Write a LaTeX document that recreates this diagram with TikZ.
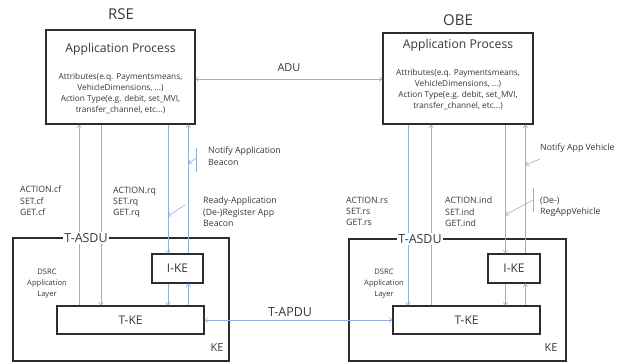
\documentclass[tikz,border=0pt]{standalone}
\usepackage{fontspec}
\setmainfont{Open Sans}
\usetikzlibrary{arrows.meta,calc}
\definecolor{flowblue}{RGB}{145,176,220}
\definecolor{ink}{RGB}{55,55,55}
\definecolor{frame}{RGB}{45,45,45}
\tikzset{
  box/.style={draw=frame,line width=1.2pt,fill=white,inner sep=0pt,text=ink},
  flow/.style={draw=flowblue,line width=0.6pt,-{To[length=3.5pt,width=5pt]}},
  flowline/.style={draw=flowblue,line width=0.6pt},
  bothflow/.style={draw=flowblue,line width=0.6pt,{To[length=3.5pt,width=5pt]}-{To[length=3.5pt,width=5pt]}},
  small/.style={text=ink,font=\fontsize{8.3}{11}\selectfont,inner sep=0pt},
  lbl/.style={text=ink,font=\fontsize{8.8}{11.2}\selectfont,inner sep=0pt,anchor=north west,align=left},
  heading/.style={text=ink,font=\fontsize{15}{18}\selectfont,inner sep=0pt},
  title/.style={text=ink,font=\fontsize{12.2}{14}\selectfont,inner sep=0pt},
  mid/.style={text=ink,font=\fontsize{12.5}{14}\selectfont,inner sep=1.5pt},
  kebox/.style={box,font=\fontsize{12}{14}\selectfont},
}
\begin{document}
\begin{tikzpicture}[x=1bp,y=-1bp]
\useasboundingbox (0,0) rectangle (625,363);

% ---------- RSE side ----------
\node[heading] (rsename) at (121,14) {RSE};
\node[box,minimum width=149bp,minimum height=94bp] (rseapp) at (120.5,77) {};
\node[title] (rsetitle) at (120.5,49) {Application Process};
\node[small,align=center] (rseattr) at (120.5,93.5)
  {Attributes(e.q. Paymentsmeans,\\VehicleDimensions, ...)\\Action Type(e.g. debit, set\_MVI,\\transfer\_channel, etc...)};

\node[box,minimum width=216bp,minimum height=123bp] (rseke) at (121,299.5) {};
\node[text=ink,font=\fontsize{11}{13}\selectfont,inner sep=0pt] (rsekelbl) at (217,348) {KE};
\node[small,align=center,font=\fontsize{7.6}{11}\selectfont] (rsedsrc) at (47,284) {DSRC\\Application\\Layer};
\node[kebox,minimum width=147bp,minimum height=28bp] (rsetke) at (130.5,320) {T-KE};
\node[kebox,minimum width=51bp,minimum height=29bp] (rseike) at (177.5,268.5) {I-KE};

% vertical service primitives
\coordinate (ra) at (79,0);
\coordinate (rb) at (101,0);
\coordinate (rc) at (168,0);
\coordinate (rd) at (188.5,0);
\draw[flow] (rsetke.north -| ra) -- (rseapp.south -| ra);
\draw[flow] (rseapp.south -| rb) -- (rsetke.north -| rb);
\draw[flow] (rseapp.south -| rc) -- (rseike.north -| rc);
\draw[flow] (rseike.south -| rc) -- (rsetke.north -| rc);
\draw[flow] (rsetke.north -| rd) -- (rseike.south -| rd);
\draw[flow] (rseike.north -| rd) -- (rseapp.south -| rd);
\node[mid,fill=white] (rseasdu) at (86,238) {T-ASDU};

\node[lbl] (rsecf) at (20,186) {ACTION.cf\\SET.cf\\GET.cf};
\node[lbl] (rserq) at (113,187) {ACTION.rq\\SET.rq\\GET.rq};
\node[lbl] (rsenotify) at (208,147) {Notify Application\\Beacon};
\node[lbl] (rseready) at (203,197) {Ready-Application\\(De-)Register App\\Beacon};

% pointers from the notification labels
\coordinate (rbarT) at (196,148);
\coordinate (rbarB) at (196,172);
\draw[flowline] (rbarT) -- (rbarB);
\draw[flow] ($(rbarT)!0.42!(rbarB)$) -- (rd |- 0,163.5);
\coordinate (rreadyfrom) at (185,205);
\draw[flow] (rreadyfrom) -- (rc |- 0,216);

% ---------- OBE side ----------
\node[heading] (obename) at (458,20) {OBE};
\node[box,minimum width=150bp,minimum height=91bp] (obeapp) at (458,78.5) {};
\node[title] (obetitle) at (458,45) {Application Process};
\node[small,align=center] (obeattr) at (458,89.5)
  {Attributes(e.q. Paymentsmeans,\\VehicleDimensions, ...)\\Action Type(e.g. debit, set\_MVI,\\transfer\_channel, etc...)};

\node[box,minimum width=217bp,minimum height=122bp] (obeke) at (457.5,300) {};
\node[text=ink,font=\fontsize{11}{13}\selectfont,inner sep=0pt] (obekelbl) at (551,348) {KE};
\node[small,align=center,font=\fontsize{7.6}{11}\selectfont] (obedsrc) at (384,284) {DSRC\\Application\\Layer};
\node[kebox,minimum width=147bp,minimum height=28bp] (obetke) at (466.5,320) {T-KE};
\node[kebox,minimum width=52bp,minimum height=29bp] (obeike) at (514,268.5) {I-KE};

\coordinate (oa) at (408,0);
\coordinate (ob) at (431,0);
\coordinate (oc) at (505.5,0);
\coordinate (od) at (525.5,0);
\draw[flow] (obeapp.south -| oa) -- (obetke.north -| oa);
\draw[flow] (obetke.north -| ob) -- (obeapp.south -| ob);
\draw[flow] (obeapp.south -| oc) -- (obeike.north -| oc);
\draw[flow] (obeike.south -| oc) -- (obetke.north -| oc);
\draw[flow] (obetke.north -| od) -- (obeike.south -| od);
\draw[flow] (obeike.north -| od) -- (obeapp.south -| od);
\node[mid,fill=white] (obeasdu) at (420,239) {T-ASDU};

\node[lbl] (obers) at (346,197) {ACTION.rs\\SET.rs\\GET.rs};
\node[lbl] (obeind) at (445,197) {ACTION.ind\\SET.ind\\GET.ind};
\node[lbl] (obenotify) at (540,144) {Notify App Vehicle};
\node[lbl] (obedereg) at (540,197) {(De-)\\RegAppVehicle};

\coordinate (onotifyfrom) at (540,159);
\draw[flow] (onotifyfrom) -- (od |- 0,165);
\coordinate (obarT) at (533,188);
\coordinate (obarB) at (533,212);
\draw[flowline] (obarT) -- (obarB);
\draw[flow] ($(obarT)!0.5!(obarB)$) -- (oc |- 0,215);

% ---------- peer-to-peer exchanges ----------
\coordinate (aduy) at (0,79);
\draw[bothflow] (rseapp.east |- aduy) -- (obeapp.west |- aduy);
\node[text=ink,font=\fontsize{11}{13}\selectfont,inner sep=0pt] (adu) at (289,68) {ADU};
\draw[bothflow] (rsetke.east) -- (obetke.west);
\node[mid,inner sep=0pt] (tapdu) at (290,312) {T-APDU};
\end{tikzpicture}
\end{document}
